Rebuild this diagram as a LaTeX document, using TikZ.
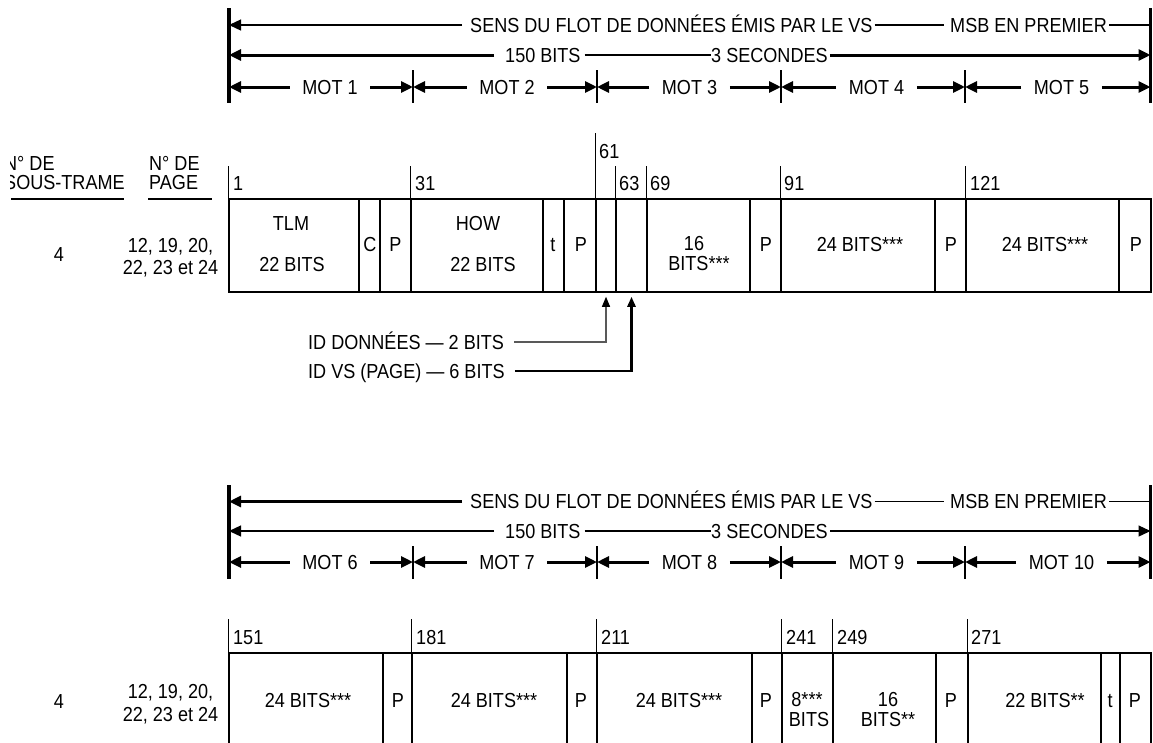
\documentclass[tikz,border=0pt]{standalone}
\usepackage{fontspec}
\setmainfont{Liberation Sans}[FakeStretch=0.89]
\usetikzlibrary{arrows.meta}
\tikzset{
  lbl/.style={font=\fontsize{20.3}{21}\selectfont, inner sep=0pt, text height=14.5pt, text depth=0pt},
  fld/.style={draw, line width=1.5pt, inner sep=0pt, minimum height=93pt},
  thk/.style={line width=3pt},
  thn/.style={line width=1.3pt},
  tickln/.style={line width=1.5pt},
  arr/.style={-{Triangle[length=12pt,width=11pt]}},
  smallarr/.style={-{Triangle[length=10pt,width=8pt,color=black]}},
}
\newcommand\fld[4]{\node[fld, minimum width={#3-#2}] (#1) at ({(#2+#3)/2},#4) {};}
\begin{document}
\begin{tikzpicture}[x=1pt,y=-1pt]
\useasboundingbox (0,0) rectangle (1153,742);

% ================= TOP HEADER =================
\coordinate (hT1) at (229,8);   \coordinate (hB1) at (229,103);
\coordinate (rT1) at (1150.5,8); \coordinate (rB1) at (1150.5,103);
\draw[line width=3.3pt] (hT1) -- (hB1);
\draw[line width=2.2pt] (rT1) -- (rB1);
\coordinate (sL1) at (229,25); \coordinate (sR1) at (1150.5,25);
\node[lbl,anchor=west] (sens1) at (470,25) {SENS DU FLOT DE DONNÉES ÉMIS PAR LE VS};
\node[lbl,anchor=west] (msb1) at (950,25) {MSB EN PREMIER};
\draw[thn,arr] ([xshift=-8pt]sens1.west) -- (sL1);
\draw[thn] ([xshift=2pt]sens1.east) -- ([xshift=-6pt]msb1.west);
\draw[thn] ([xshift=2pt]msb1.east) -- (sR1);
\coordinate (bL1) at (229,55); \coordinate (bR1) at (1150.5,55);
\node[lbl,anchor=west] (bits1) at (505,55) {150 BITS};
\node[lbl,anchor=west] (sec1) at (711,55) {3 SECONDES};
\draw[thk,arr] ([xshift=-11pt]bits1.west) -- (bL1);
\draw[thn] ([xshift=4pt]bits1.east) -- (sec1.west);
\draw[thk,arr] ([xshift=2pt]sec1.east) -- (bR1);
\foreach \i/\a/\b/\c in {1/229/413/330,2/413/597/507,3/597/781/689.5,4/781/965/876.5,5/965/1150.5/1061.5}{
  \coordinate (ma\i) at (\a,87); \coordinate (mb\i) at (\b,87);
  \node[lbl,inner xsep=12.5pt] (mot\i) at (\c,87) {MOT \i};
  \draw[thk,arr] (mot\i) -- (ma\i);
  \draw[thk,arr] (mot\i) -- (mb\i);
}
\foreach \x in {413,597,781,965} \draw[thn] (\x,70) -- (\x,103);

% ================= BOTTOM HEADER =================
\coordinate (hT2) at (229,485);   \coordinate (hB2) at (229,579);
\coordinate (rT2) at (1150.5,485); \coordinate (rB2) at (1150.5,579);
\draw[line width=3.3pt] (hT2) -- (hB2);
\draw[line width=2.2pt] (rT2) -- (rB2);
\coordinate (sL2) at (229,501.5); \coordinate (sR2) at (1150.5,501.5);
\node[lbl,anchor=west] (sens2) at (470,501.5) {SENS DU FLOT DE DONNÉES ÉMIS PAR LE VS};
\node[lbl,anchor=west] (msb2) at (950,501.5) {MSB EN PREMIER};
\draw[thk,arr] ([xshift=-8pt]sens2.west) -- (sL2);
\draw[thn] ([xshift=2pt]sens2.east) -- ([xshift=-6pt]msb2.west);
\draw[thn] ([xshift=2pt]msb2.east) -- (sR2);
\coordinate (bL2) at (229,531); \coordinate (bR2) at (1150.5,531);
\node[lbl,anchor=west] (bits2) at (505,531) {150 BITS};
\node[lbl,anchor=west] (sec2) at (711,531) {3 SECONDES};
\draw[thn,arr] ([xshift=-11pt]bits2.west) -- (bL2);
\draw[thn] ([xshift=4pt]bits2.east) -- (sec2.west);
\draw[thn,arr] ([xshift=2pt]sec2.east) -- (bR2);
\foreach \i/\n/\a/\b/\c in {6/6/229/413/330,7/7/413/597/507,8/8/597/781/689.5,9/9/781/965/876.5,10/10/965/1150.5/1061.5}{
  \coordinate (ma\i) at (\a,562); \coordinate (mb\i) at (\b,562);
  \node[lbl,inner xsep=12.5pt] (mot\i) at (\c,562) {MOT \n};
  \draw[thk,arr] (mot\i) -- (ma\i);
  \draw[thk,arr] (mot\i) -- (mb\i);
}
\foreach \x in {413,597,781,965} \draw[thn] (\x,546) -- (\x,579);

% ================= LEFT COLUMN =================
\begin{scope}
  \clip (10,0) rectangle (300,742);
  \node[lbl,anchor=west] (sfA) at (4,163.5) {N° DE};
  \node[lbl,anchor=west] (sfB) at (4,182.5) {SOUS-TRAME};
\end{scope}
\node[lbl,anchor=west] (pgA) at (149,163.5) {N° DE};
\node[lbl,anchor=west] (pgB) at (149,182.5) {PAGE};
\coordinate (u1a) at (11,199); \coordinate (u1b) at (124,199);
\coordinate (u2a) at (148,199); \coordinate (u2b) at (212,199);
\draw[tickln] (u1a) -- (u1b);
\draw[tickln] (u2a) -- (u2b);
\node[lbl] (sf1) at (59,254) {4};
\node[lbl] (pg1a) at (170.5,245) {12, 19, 20,};
\node[lbl] (pg1b) at (170.5,267.5) {22, 23 et 24};
\node[lbl] (sf2) at (59,701) {4};
\node[lbl] (pg2a) at (170.5,691) {12, 19, 20,};
\node[lbl] (pg2b) at (170.5,714) {22, 23 et 24};

% ================= ROW 1 =================
\fld{a1}{229}{359}{245.5}
\fld{a2}{359}{380}{245.5}
\fld{a3}{380}{411}{245.5}
\fld{a4}{411}{543}{245.5}
\fld{a5}{543}{564}{245.5}
\fld{a6}{564}{596}{245.5}
\fld{a7}{596}{616}{245.5}
\fld{a8}{616}{647}{245.5}
\fld{a9}{647}{750}{245.5}
\fld{a10}{750}{781}{245.5}
\fld{a11}{781}{935}{245.5}
\fld{a12}{935}{966}{245.5}
\fld{a13}{966}{1119}{245.5}
\fld{a14}{1119}{1151}{245.5}
\foreach \f in {a1,a4,a8,a9,a11,a13} \draw[tickln] (\f.north west) -- ++(0,-32);
\draw[tickln] (a7.north west) -- ++(0,-65);
\node[lbl,anchor=west] (n1) at (233,183) {1};
\node[lbl,anchor=west] (n31) at (415,183) {31};
\node[lbl,anchor=west] (n61) at (599,151.5) {61};
\node[lbl,anchor=west] (n63) at (619,183) {63};
\node[lbl,anchor=west] (n69) at (650,183) {69};
\node[lbl,anchor=west] (n91) at (784,183) {91};
\node[lbl,anchor=west] (n121) at (970,183) {121};
\node[lbl] (tTLM) at (291,223.5) {TLM};
\node[lbl] (tTLMb) at (292,264.5) {22 BITS};
\node[lbl] (tC) at (370,244) {C};
\node[lbl] (tP1) at (395.5,244) {P};
\node[lbl] (tHOW) at (478,223.5) {HOW};
\node[lbl] (tHOWb) at (483,264.5) {22 BITS};
\node[lbl] (tt1) at (553,244) {t};
\node[lbl] (tP2) at (581,244) {P};
\node[lbl] (t16) at (694,243) {16};
\node[lbl] (t16b) at (699,263) {BITS***};
\node[lbl] (tP3) at (766,244) {P};
\node[lbl] (t24a) at (860,244) {24 BITS***};
\node[lbl] (tP4) at (951,244) {P};
\node[lbl] (t24b) at (1045,244) {24 BITS***};
\node[lbl] (tP5) at (1136,244) {P};

% ID labels and arrows
\node[lbl,anchor=west] (idd) at (308,342) {ID DONNÉES — 2 BITS};
\node[lbl,anchor=west] (idv) at (308,371) {ID VS (PAGE) — 6 BITS};
\draw[line width=1.2pt, black!65, smallarr] ([xshift=10pt]idd.east) -| ([yshift=-4pt]a7.south);
\draw[line width=2.5pt, smallarr] ([xshift=10pt]idv.east) -| ([yshift=-4pt]a8.south);

% ================= ROW 2 =================
\fld{b1}{229}{383}{699.5}
\fld{b2}{383}{412}{699.5}
\fld{b3}{412}{567}{699.5}
\fld{b4}{567}{597}{699.5}
\fld{b5}{597}{752}{699.5}
\fld{b6}{752}{782}{699.5}
\fld{b7}{782}{833}{699.5}
\fld{b8}{833}{936}{699.5}
\fld{b9}{936}{968}{699.5}
\fld{b10}{968}{1101}{699.5}
\fld{b11}{1101}{1120}{699.5}
\fld{b12}{1120}{1151}{699.5}
\foreach \f in {b1,b3,b5,b7,b8,b10} \draw[tickln] (\f.north west) -- ++(0,-33);
\node[lbl,anchor=west] (n151) at (233,637) {151};
\node[lbl,anchor=west] (n181) at (416,637) {181};
\node[lbl,anchor=west] (n211) at (601,637) {211};
\node[lbl,anchor=west] (n241) at (786,637) {241};
\node[lbl,anchor=west] (n249) at (837,637) {249};
\node[lbl,anchor=west] (n271) at (971,637) {271};
\node[lbl] (u24a) at (308,700) {24 BITS***};
\node[lbl] (uP1) at (398,700) {P};
\node[lbl] (u24b) at (494,700) {24 BITS***};
\node[lbl] (uP2) at (581,700) {P};
\node[lbl] (u24c) at (679,700) {24 BITS***};
\node[lbl] (uP3) at (766,700) {P};
\node[lbl] (u8) at (807,699) {8***};
\node[lbl] (u8b) at (809,719) {BITS};
\node[lbl] (u16) at (888,699) {16};
\node[lbl] (u16b) at (888,719) {BITS**};
\node[lbl] (uP4) at (951,700) {P};
\node[lbl] (u22) at (1045,700) {22 BITS**};
\node[lbl] (ut) at (1110,700) {t};
\node[lbl] (uP5) at (1135,700) {P};
\end{tikzpicture}
\end{document}
